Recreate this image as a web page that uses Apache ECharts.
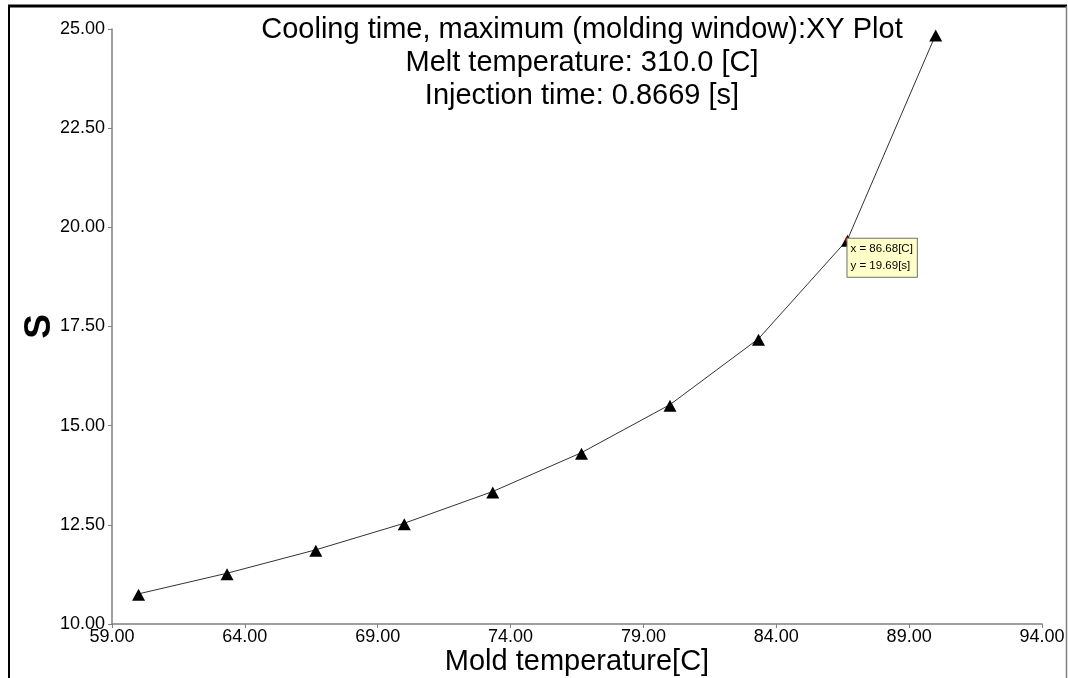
<!DOCTYPE html>
<html>
<head>
<meta charset="utf-8">
<script src="https://cdn.jsdelivr.net/npm/echarts@6/dist/echarts.min.js"></script>
<style>html,body{margin:0;padding:0;background:#fff}#c{width:1068px;height:678px}</style>
</head>
<body>
<div id="c"></div>
<script>
var titleLines = ['Cooling time, maximum (molding window):XY Plot', 'Melt temperature: 310.0 [C]', 'Injection time: 0.8669 [s]'];
var xName = 'Mold temperature[C]';
var yName = 'S';
var moldTemp = [60.00, 63.33, 66.67, 70.00, 73.33, 76.67, 80.00, 83.33, 86.68, 90.00];
var coolTime = [10.76, 11.28, 11.87, 12.54, 13.34, 14.32, 15.53, 17.19, 19.69, 24.86];
var xMin = 59, xMax = 94, xStep = 5;
var yMin = 10, yMax = 25, yStep = 2.5;
var tipX = 86.68, tipY = 19.69;

var FONT = '"Liberation Sans", Arial, sans-serif';
var chart = echarts.init(document.getElementById('c'), null, {renderer: 'canvas'});
var pts = moldTemp.map(function (x, i) { return [x, coolTime[i]]; });

chart.setOption({
  animation: false,
  backgroundColor: '#fff',
  title: {
    text: titleLines.join('\n'),
    left: 577, top: 8, textAlign: 'center',
    textStyle: {fontFamily: FONT, fontSize: 29, fontWeight: 'normal', color: '#000', lineHeight: 33}
  },
  grid: {left: 112, top: 29, right: 26, bottom: 54, containLabel: false, outerBoundsMode: 'none'},
  xAxis: {
    type: 'value', min: xMin, max: xMax, interval: xStep,
    name: xName, nameLocation: 'middle', nameGap: 23, nameMoveOverlap: false,
    nameTextStyle: {fontFamily: FONT, fontSize: 29, color: '#000'},
    axisLine: {show: true, lineStyle: {color: '#808080', width: 1.5}},
    axisTick: {show: true, length: 4, lineStyle: {color: '#808080'}},
    axisLabel: {fontFamily: FONT, fontSize: 18, color: '#000', margin: 4,
      formatter: function (v) { return v.toFixed(2); }},
    splitLine: {show: false}
  },
  yAxis: {
    type: 'value', min: yMin, max: yMax, interval: yStep,
    name: yName, nameLocation: 'middle', nameGap: 54, nameRotate: 90, nameMoveOverlap: false,
    nameTextStyle: {fontFamily: FONT, fontSize: 37, fontWeight: 'bold', color: '#000'},
    axisLine: {show: true, lineStyle: {color: '#808080', width: 1.5}},
    axisTick: {show: true, length: 4, lineStyle: {color: '#808080'}},
    axisLabel: {fontFamily: FONT, fontSize: 18, color: '#000', margin: 7,
      formatter: function (v) { return v.toFixed(2); }},
    splitLine: {show: false}
  },
  series: [{
    type: 'line',
    data: pts,
    symbol: 'triangle', symbolSize: [13, 12], symbolOffset: [0, 1], showAllSymbol: true,
    itemStyle: {color: '#000'},
    lineStyle: {color: '#333', width: 1},
    markPoint: {
      symbol: 'rect', symbolSize: 4,
      itemStyle: {color: '#ff0000'},
      label: {
        show: true, position: [2, 1],
        formatter: 'x = ' + tipX.toFixed(2) + '[C]\ny = ' + tipY.toFixed(2) + '[s]',
        fontFamily: FONT, fontSize: 11.5, color: '#000', lineHeight: 17,
        backgroundColor: '#ffffc8', borderColor: '#707070', borderWidth: 1,
        padding: [2, 4, 2, 3], align: 'left', verticalAlign: 'top'
      },
      data: [{coord: [tipX, tipY]}]
    }
  }],
  graphic: [
    {type: 'line', shape: {x1: 9, y1: 6, x2: 9, y2: 678}, style: {stroke: '#000', lineWidth: 2}},
    {type: 'line', shape: {x1: 8, y1: 6, x2: 1067, y2: 6}, style: {stroke: '#000', lineWidth: 3}},
    {type: 'line', shape: {x1: 1066.5, y1: 6, x2: 1066.5, y2: 678}, style: {stroke: '#808080', lineWidth: 1.5}}
  ]
});
</script>
</body>
</html>
